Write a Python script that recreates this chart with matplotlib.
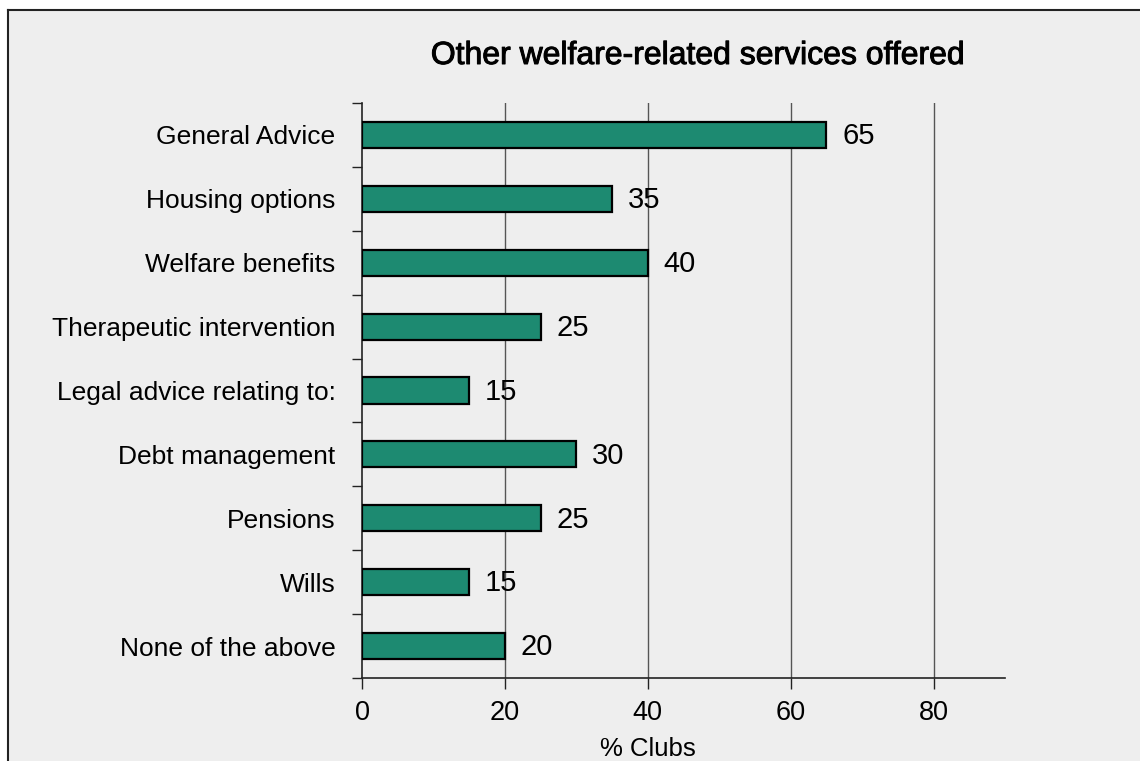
import matplotlib.pyplot as plt
import matplotlib.patheffects as pe
from matplotlib.patches import Rectangle
from matplotlib.lines import Line2D
import numpy as np

categories = [
    "General Advice",
    "Housing options",
    "Welfare benefits",
    "Therapeutic intervention",
    "Legal advice relating to:",
    "Debt management",
    "Pensions",
    "Wills",
    "None of the above",
]
values = [65, 35, 40, 25, 15, 30, 25, 15, 20]
x_ticks = [0, 20, 40, 60, 80]

title = "Other welfare-related services offered"
x_label = "% Clubs"

bar_color = "#1d8a71"
panel_color = "#eeeeee"

plt.rcParams["font.family"] = ["Liberation Sans", "DejaVu Sans"]

W, H = 1140, 761
fig = plt.figure(figsize=(W / 100, H / 100), dpi=100)
fig.patch.set_facecolor("white")

# grey panel with a border on its left and top edges
fig.patches.append(Rectangle((8 / W, 0), 1, 1 - 10 / H, transform=fig.transFigure,
                             facecolor=panel_color, edgecolor="none", zorder=-10))
fig.lines.append(Line2D([8 / W, 8 / W], [0, 1 - 10 / H], transform=fig.transFigure,
                        color="#222222", lw=1.5))
fig.lines.append(Line2D([8 / W, 1], [1 - 10 / H, 1 - 10 / H], transform=fig.transFigure,
                        color="#222222", lw=1.5))

left, right = 362 / W, 1005 / W
bottom, top = 1 - 678 / H, 1 - 103 / H
ax = fig.add_axes([left, bottom, right - left, top - bottom])
ax.set_facecolor("none")

n = len(categories)
y = np.arange(n)
ax.barh(y, values, height=0.41, color=bar_color, edgecolor="black", linewidth=1.6, zorder=3)

for yi, v in zip(y, values):
    ax.text(v + 2.2, yi + 0.02, str(v), va="center", ha="left", fontsize=21, color="black", zorder=4)

ax.set_ylim(n - 0.5, -0.5)
ax.set_xlim(0, 90)

ax.set_yticks(y)
ax.set_yticklabels(categories, fontsize=19)
ax.set_yticks(np.arange(-0.5, n, 1.0), minor=True)
ax.tick_params(axis="y", which="major", length=0, pad=19)
ax.tick_params(axis="y", which="minor", length=7, width=1.0, direction="out", color="#222222")

ax.set_xticks(x_ticks)
ax.set_xticklabels([str(t) for t in x_ticks], fontsize=19.5)
ax.tick_params(axis="x", which="major", length=8, width=1.0, direction="out", pad=8, color="#222222")

for t in x_ticks[1:]:
    ax.axvline(t, color="#555555", lw=1.0, zorder=1)

for side in ("top", "right"):
    ax.spines[side].set_visible(False)
for side in ("left", "bottom"):
    ax.spines[side].set_color("#222222")
    ax.spines[side].set_linewidth(1.2)

ax.set_xlabel(x_label, fontsize=18.5)
ax.xaxis.set_label_coords(40 / 90, -0.102)

fig.text(698 / W, 1 - 56 / H, title, ha="center", va="center", fontsize=23,
         color="black", path_effects=[pe.withStroke(linewidth=0.7, foreground="black")])

fig.savefig("out.png", dpi=100, facecolor=fig.get_facecolor())
